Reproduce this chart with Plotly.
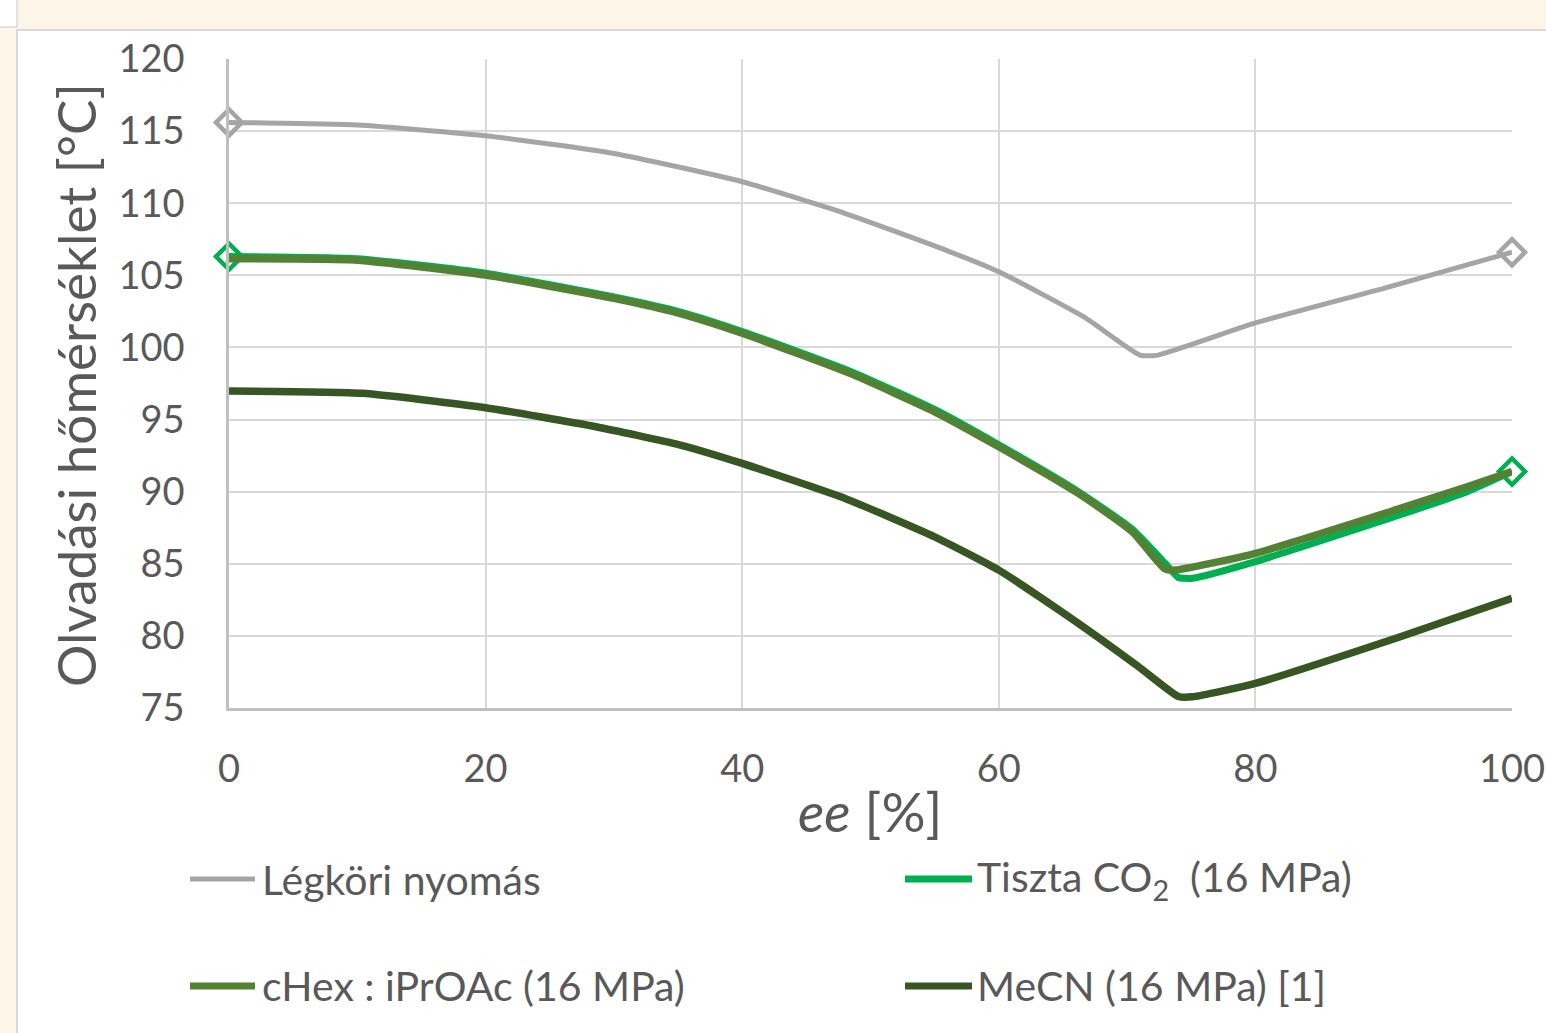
import plotly.graph_objects as go

# ---------------- data ----------------
series_names = [
    "Légköri nyomás",
    "Tiszta CO<sub>2</sub>\u00a0\u00a0(16 MPa)",
    "cHex : iPrOAc (16 MPa)",
    "MeCN (16 MPa) [1]",
]

ee_legkori = [0, 10, 20, 30, 40, 48, 56, 60, 66.6, 71, 72.3, 80, 90, 100]
T_legkori = [115.6, 115.42, 114.68, 113.45, 111.49, 109.3, 106.7, 105.25, 102.13, 99.47, 99.45, 101.7, 104.1, 106.6]

ee_co2 = [0, 10, 20, 30, 35, 40, 48.4, 55, 60, 66.2, 70.4, 73, 74, 75.1, 80, 91.3, 96.5, 100]
T_co2 = [106.3, 106.15, 105.15, 103.5, 102.5, 101.1, 98.35, 95.7, 93.25, 90.0, 87.4, 85.0, 84.05, 84.0, 85.15, 88.4, 90.0, 91.4]

ee_chex = [0, 10, 20, 30, 35.1, 40, 48.4, 55, 60, 66.2, 70.4, 72.9, 73.7, 80, 91.3, 96.5, 100]
T_chex = [106.15, 106.05, 105.02, 103.4, 102.36, 100.98, 98.2, 95.54, 93.11, 89.88, 87.22, 84.68, 84.56, 85.72, 88.84, 90.34, 91.4]

ee_mecn = [0, 10.4, 20, 28.6, 35.1, 40, 48.1, 55, 60, 66.2, 70.9, 74, 75.1, 80, 91.3, 100]
T_mecn = [96.98, 96.82, 95.82, 94.5, 93.25, 91.96, 89.5, 86.87, 84.56, 80.87, 77.86, 75.8, 75.78, 76.71, 79.94, 82.6]

x_ticks = [0, 20, 40, 60, 80, 100]
y_ticks = [75, 80, 85, 90, 95, 100, 105, 110, 115, 120]

# ---------------- style ----------------
FONT = "Lato, 'Open Sans', sans-serif"
TXT = "#595959"
colors = ["#A5A5A5", "#00B050", "#548235", "#375623"]
widths = [5, 7, 7.5, 7.5]

W, H = 1546, 1033
L, R, T, B = 229, 1512, 59, 708


def px(x):
    return (x - L) / (R - L)


def py(y):
    return (B - y) / (B - T)


fig = go.Figure()

data = [(ee_legkori, T_legkori), (ee_co2, T_co2), (ee_chex, T_chex), (ee_mecn, T_mecn)]
with_markers = [True, True, False, False]

for (xs, ys), name, c, w, mk in zip(data, series_names, colors, widths, with_markers):
    fig.add_trace(go.Scatter(x=xs, y=ys, mode="lines", name=name, showlegend=False,
                             line=dict(color=c, width=w, shape="spline", smoothing=0.5),
                             hoverinfo="x+y"))
    if mk:
        fig.add_trace(go.Scatter(x=[xs[0], xs[-1]], y=[ys[0], ys[-1]], mode="markers",
                                 showlegend=False, hoverinfo="skip", cliponaxis=False,
                                 marker=dict(symbol="diamond-open", size=20,
                                             color=c, line=dict(color=c, width=4.5))))

shapes = []
# cream page with white chart area
shapes.append(dict(type="rect", xref="paper", yref="paper", layer="below",
                   x0=px(17), x1=px(1560), y0=py(1045), y1=py(30),
                   fillcolor="white", line=dict(color="#D9D9D9", width=2)))
shapes.append(dict(type="rect", xref="paper", yref="paper", layer="below",
                   x0=px(-5), x1=px(17), y0=py(27), y1=py(-5),
                   fillcolor="white", line=dict(color="#C8C8C8", width=1)))

# manual legend
leg_pos = [(190, 255, 260, 879), (905, 972, 975, 879), (190, 255, 260, 986), (905, 972, 975, 986)]
leg_w = [5, 7, 7, 7]
annotations = []
for (x0, x1, xt, yy), name, c, lw in zip(leg_pos, series_names, colors, leg_w):
    shapes.append(dict(type="line", xref="paper", yref="paper",
                       x0=px(x0), x1=px(x1), y0=py(yy), y1=py(yy),
                       line=dict(color=c, width=lw)))
    annotations.append(dict(xref="paper", yref="paper", x=px(xt), y=py(yy),
                            xanchor="left", yanchor="middle", showarrow=False,
                            text=name, font=dict(family=FONT, size=41, color=TXT)))

# axis titles
annotations.append(dict(xref="paper", yref="paper", x=px(75), y=py(385),
                        xanchor="center", yanchor="middle", showarrow=False,
                        textangle=-90, text="Olvadási hőmérséklet [°C]",
                        font=dict(family=FONT, size=53, color=TXT)))
annotations.append(dict(xref="paper", yref="paper", x=px(870), y=py(811),
                        xanchor="center", yanchor="middle", showarrow=False,
                        text="<i>ee</i> [%]",
                        font=dict(family=FONT, size=55, color=TXT)))

fig.update_layout(
    width=W, height=H, autosize=False,
    margin=dict(l=L, r=W - R, t=T, b=H - B, pad=0, autoexpand=False),
    paper_bgcolor="#FDF5E8",
    plot_bgcolor="white",
    showlegend=False,
    shapes=shapes,
    annotations=annotations,
    font=dict(family=FONT, color=TXT),
)

fig.update_xaxes(range=[0, 100], tickvals=x_ticks, ticktext=[str(v) for v in x_ticks],
                 showgrid=True, gridcolor="#D9D9D9", gridwidth=2,
                 showline=True, linecolor="#BFBFBF", linewidth=2.5,
                 zeroline=False, ticks="", ticklabelstandoff=26, automargin=False,
                 tickfont=dict(family=FONT, size=38, color=TXT))
fig.update_yaxes(range=[75, 120], tickvals=y_ticks, ticktext=[str(v) for v in y_ticks],
                 showgrid=True, gridcolor="#D9D9D9", gridwidth=2,
                 showline=True, linecolor="#BFBFBF", linewidth=2.5,
                 zeroline=False, ticks="", ticklabelstandoff=34, automargin=False,
                 tickfont=dict(family=FONT, size=38, color=TXT))

fig.write_html("out.html", config={"displayModeBar": False},
               post_script="document.body.style.margin='0';document.body.style.padding='0';")
